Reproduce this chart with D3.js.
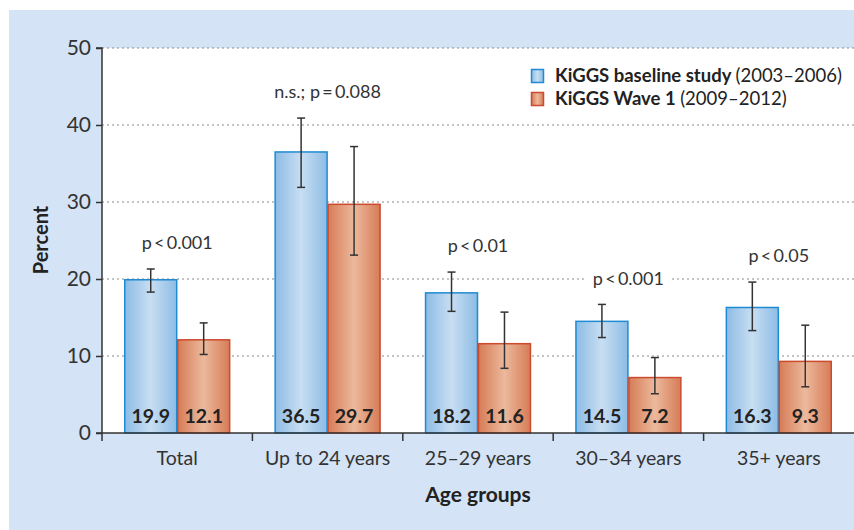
<!DOCTYPE html>
<html>
<head>
<meta charset="utf-8">
<script src="https://cdn.jsdelivr.net/npm/d3@7"></script>
<style>
  html, body { margin: 0; padding: 0; background: #fff; }
  svg { display: block; font-family: Lato, "Open Sans", sans-serif; }
</style>
</head>
<body>
<svg id="chart" width="854" height="530"></svg>
<script>
// Smoking during pregnancy by age group, two survey waves
const categories = ["Total", "Up to 24 years", "25\u201329 years", "30\u201334 years", "35+ years"];
const seriesNames = ["KiGGS baseline study", "KiGGS Wave 1"];
const seriesYears = ["(2003\u20132006)", "(2009\u20132012)"];
const baseline = [19.9, 36.5, 18.2, 14.5, 16.3];
const wave1 = [12.1, 29.7, 11.6, 7.2, 9.3];
const baselineLow = [18.3, 31.9, 15.8, 12.4, 13.3];
const baselineHigh = [21.3, 40.9, 20.9, 16.7, 19.6];
const wave1Low = [10.2, 23.1, 8.4, 5.1, 6.0];
const wave1High = [14.3, 37.2, 15.7, 9.8, 14.0];
const pLabels = ["p\u2009<\u20090.001", "n.s.; p\u2009=\u20090.088", "p\u2009<\u20090.01", "p\u2009<\u20090.001", "p\u2009<\u20090.05"];
const yTicks = [0, 10, 20, 30, 40, 50];

const svg = d3.select("#chart");
const W = 854, H = 530;
const plot = { left: 102, right: 854, top: 48, bottom: 433 };

// background panel
svg.append("rect").attr("x", 9).attr("y", 10).attr("width", W - 9).attr("height", H - 10)
  .attr("fill", "#d4e3f5");
svg.append("rect").attr("x", plot.left).attr("y", plot.top)
  .attr("width", plot.right - plot.left).attr("height", plot.bottom - plot.top)
  .attr("fill", "#fff");

const x0 = d3.scaleBand().domain(categories).range([plot.left, plot.right]).paddingInner(0).paddingOuter(0);
const x1 = d3.scaleBand().domain(seriesNames).range([0, x0.bandwidth()]).paddingInner(0).paddingOuter(0.42);
const y = d3.scaleLinear().domain([0, 50]).range([plot.bottom, plot.top]);

// gradients
const defs = svg.append("defs");
function grad(id, edge, mid) {
  const g = defs.append("linearGradient").attr("id", id).attr("x1", "0%").attr("x2", "100%");
  g.append("stop").attr("offset", "0%").attr("stop-color", edge);
  g.append("stop").attr("offset", "50%").attr("stop-color", mid);
  g.append("stop").attr("offset", "100%").attr("stop-color", edge);
}
grad("gBlue", "#8dbce5", "#c8def2");
grad("gOrange", "#d67c56", "#ecb99d");
const fills = ["url(#gBlue)", "url(#gOrange)"];
const strokes = ["#1e8bd2", "#cc4a2e"];

// gridlines
svg.append("g").selectAll("line").data(yTicks.filter(t => t > 0)).join("line")
  .attr("x1", plot.left).attr("x2", plot.right)
  .attr("y1", d => y(d)).attr("y2", d => y(d))
  .attr("stroke", "#8a8a8a").attr("stroke-width", 1.2).attr("stroke-dasharray", "2,3");

// bars
const rows = categories.map((c, i) => ({
  cat: c,
  items: [
    { s: seriesNames[0], k: 0, v: baseline[i], lo: baselineLow[i], hi: baselineHigh[i] },
    { s: seriesNames[1], k: 1, v: wave1[i], lo: wave1Low[i], hi: wave1High[i] }
  ]
}));

const groups = svg.append("g").selectAll("g").data(rows).join("g")
  .attr("transform", d => `translate(${x0(d.cat)},0)`);

groups.selectAll("rect").data(d => d.items).join("rect")
  .attr("x", d => x1(d.s) + 0.5).attr("width", x1.bandwidth() - 1)
  .attr("y", d => y(d.v)).attr("height", d => y(0) - y(d.v))
  .attr("fill", d => fills[d.k]).attr("stroke", d => strokes[d.k]).attr("stroke-width", 1.5);

// value labels
groups.selectAll("text.val").data(d => d.items).join("text").attr("class", "val")
  .attr("x", d => x1(d.s) + x1.bandwidth() / 2).attr("y", y(0) - 10)
  .attr("text-anchor", "middle").attr("font-size", 19.5).attr("font-weight", 700)
  .attr("fill", "#222").text(d => d.v.toFixed(1));

// error bars
const eb = groups.selectAll("g.err").data(d => d.items).join("g").attr("class", "err")
  .attr("stroke", "#333").attr("stroke-width", 1.5);
eb.append("line").attr("x1", d => x1(d.s) + x1.bandwidth() / 2).attr("x2", d => x1(d.s) + x1.bandwidth() / 2)
  .attr("y1", d => y(d.lo)).attr("y2", d => y(d.hi));
eb.append("line").attr("x1", d => x1(d.s) + x1.bandwidth() / 2 - 4).attr("x2", d => x1(d.s) + x1.bandwidth() / 2 + 4)
  .attr("y1", d => y(d.lo)).attr("y2", d => y(d.lo));
eb.append("line").attr("x1", d => x1(d.s) + x1.bandwidth() / 2 - 4).attr("x2", d => x1(d.s) + x1.bandwidth() / 2 + 4)
  .attr("y1", d => y(d.hi)).attr("y2", d => y(d.hi));

// significance labels above the taller error bar
const pg = groups.append("g").attr("class", "plab");
pg.each(function (d, i) {
  const g = d3.select(this);
  const top = d3.max(d.items, e => e.hi);
  const cy = y(top) - 26;
  const t = g.append("text").attr("x", x0.bandwidth() / 2).attr("y", cy).attr("dy", "0.35em")
    .attr("text-anchor", "middle").attr("font-size", 18).attr("fill", "#333").text(pLabels[i]);
  const bb = t.node().getBBox();
  g.insert("rect", "text").attr("x", bb.x - 6).attr("y", bb.y).attr("width", bb.width + 12)
    .attr("height", bb.height).attr("fill", "#fff");
});

// axes
const yAxis = svg.append("g").attr("transform", `translate(${plot.left},0)`)
  .call(d3.axisLeft(y).tickValues(yTicks).tickSize(6).tickPadding(5));
yAxis.select(".domain").attr("stroke", "#333").attr("stroke-width", 1.5)
  .attr("d", `M-6,${plot.top}H0V${plot.bottom + 8}`);
yAxis.selectAll(".tick line").attr("stroke", "#333").attr("stroke-width", 1.5);
yAxis.selectAll(".tick text").attr("font-size", 21).attr("fill", "#333")
  .attr("font-family", "Lato, 'Open Sans', sans-serif");

const xAxis = svg.append("g").attr("transform", `translate(0,${plot.bottom})`);
xAxis.append("line").attr("x1", plot.left - 6).attr("x2", plot.right).attr("y1", 0).attr("y2", 0)
  .attr("stroke", "#333").attr("stroke-width", 1.5);
xAxis.selectAll("line.sep").data(categories.slice(1)).join("line").attr("class", "sep")
  .attr("x1", d => x0(d)).attr("x2", d => x0(d)).attr("y1", 0).attr("y2", 8)
  .attr("stroke", "#333").attr("stroke-width", 1.5);
xAxis.selectAll("text").data(categories).join("text")
  .attr("x", d => x0(d) + x0.bandwidth() / 2).attr("y", 32)
  .attr("text-anchor", "middle").attr("font-size", 19.5).attr("fill", "#333").text(d => d);

// axis titles
svg.append("text").attr("x", (plot.left + plot.right) / 2).attr("y", 502)
  .attr("text-anchor", "middle").attr("font-size", 21).attr("font-weight", 700).attr("fill", "#222")
  .text("Age groups");
svg.append("text").attr("transform", `translate(48,240) rotate(-90)`)
  .attr("text-anchor", "middle").attr("font-size", 20).attr("font-weight", 700).attr("fill", "#222")
  .text("Percent");

// legend
const lg = svg.append("g").attr("transform", "translate(531,76)");
seriesNames.forEach((s, i) => {
  const row = lg.append("g").attr("transform", `translate(0,${i * 23})`);
  row.append("rect").attr("x", 0.5).attr("y", -6.5).attr("width", 12).attr("height", 13)
    .attr("fill", fills[i]).attr("stroke", strokes[i]).attr("stroke-width", 1.5);
  const t = row.append("text").attr("x", 24).attr("dy", "0.35em").attr("font-size", 18.5).attr("fill", "#222");
  t.append("tspan").attr("font-weight", 700).text(s + " ");
  t.append("tspan").text(seriesYears[i]);
});
</script>
</body>
</html>
